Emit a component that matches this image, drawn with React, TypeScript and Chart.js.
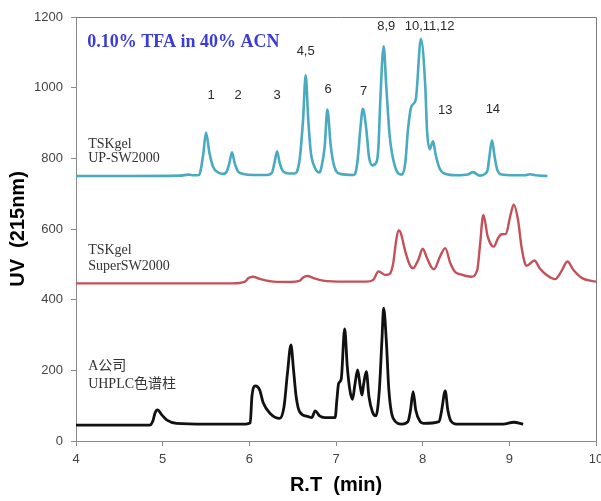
import React, { useEffect, useRef } from "react";
import { Chart, registerables } from "chart.js";

Chart.register(...registerables);

// ---- Data (retention time in min, UV absorbance) ----
const xTicks = [4, 5, 6, 7, 8, 9, 10];
const yTicks = [0, 200, 400, 600, 800, 1000, 1200];

const upSw2000: [number, number][] = [
  [4.0, 750], [4.6, 750], [5.2, 751], [5.3, 754], [5.36, 752], [5.42, 753],
  [5.44, 768], [5.47, 815], [5.5, 873], [5.54, 815], [5.58, 777], [5.64, 760], [5.7, 756],
  [5.74, 763], [5.77, 787], [5.8, 817], [5.83, 787], [5.87, 763], [5.93, 756], [6.05, 753], [6.2, 753],
  [6.26, 759], [6.29, 787], [6.32, 820], [6.35, 787], [6.39, 763], [6.46, 757], [6.52, 757],
  [6.55, 763], [6.58, 796], [6.62, 909], [6.65, 1035], [6.68, 909], [6.71, 816], [6.75, 777], [6.81, 760],
  [6.83, 773], [6.87, 834], [6.9, 938], [6.94, 834], [6.98, 777], [7.05, 756], [7.2, 753],
  [7.22, 756], [7.25, 796], [7.28, 881], [7.31, 940], [7.35, 881], [7.38, 805], [7.42, 780],
  [7.47, 791], [7.49, 834], [7.51, 957], [7.55, 1117], [7.58, 1004], [7.62, 862], [7.68, 777], [7.76, 754],
  [7.8, 788], [7.83, 880], [7.87, 947], [7.92, 966], [7.98, 1138], [8.03, 1004], [8.05, 881], [8.08, 826],
  [8.12, 848], [8.15, 810], [8.19, 775], [8.25, 757], [8.4, 752], [8.52, 754],
  [8.58, 761], [8.66, 751], [8.72, 756], [8.75, 768], [8.77, 805], [8.8, 851], [8.83, 805], [8.86, 768],
  [8.91, 754], [9.05, 752], [9.18, 752], [9.24, 755], [9.3, 752], [9.44, 750],
];

const superSw2000: [number, number][] = [
  [4.0, 446], [5.8, 446], [5.95, 451], [5.99, 461], [6.04, 465], [6.12, 459], [6.28, 451], [6.47, 450],
  [6.58, 453], [6.62, 463], [6.67, 467], [6.74, 461], [6.85, 454], [7.1, 451], [7.35, 451],
  [7.43, 456], [7.49, 480], [7.57, 470], [7.62, 473], [7.66, 503], [7.69, 560], [7.72, 596],
  [7.74, 593], [7.8, 536], [7.85, 499], [7.89, 489], [7.95, 513], [8.0, 544], [8.05, 518], [8.1, 492],
  [8.13, 486], [8.2, 522], [8.26, 546], [8.32, 503], [8.37, 480], [8.43, 472], [8.56, 465],
  [8.63, 484], [8.66, 550], [8.7, 640], [8.75, 579], [8.8, 552], [8.82, 550], [8.87, 574], [8.91, 585],
  [8.96, 586], [9.01, 636], [9.05, 669], [9.1, 626], [9.14, 550], [9.18, 503], [9.2, 496], [9.29, 511],
  [9.35, 489], [9.43, 470], [9.53, 458], [9.6, 480], [9.67, 508], [9.74, 484], [9.84, 461], [10.0, 451],
];

const companyA: [number, number][] = [
  [4.0, 45], [4.85, 45], [4.89, 59], [4.91, 78], [4.94, 88], [4.99, 74], [5.05, 59], [5.16, 50],
  [5.5, 48], [5.96, 48], [6.01, 51], [6.03, 126], [6.07, 156], [6.12, 144], [6.16, 108], [6.24, 78],
  [6.35, 64], [6.4, 97], [6.44, 192], [6.48, 272], [6.51, 201], [6.54, 126], [6.58, 83], [6.68, 69],
  [6.72, 66], [6.76, 85], [6.81, 71], [6.87, 66], [6.99, 66], [7.01, 116], [7.03, 163], [7.06, 175],
  [7.1, 317], [7.13, 211], [7.16, 144], [7.19, 118], [7.22, 163], [7.25, 201], [7.28, 154], [7.3, 130],
  [7.32, 163], [7.35, 196], [7.38, 126], [7.42, 83], [7.46, 71], [7.5, 144], [7.53, 286], [7.55, 376],
  [7.58, 286], [7.61, 144], [7.66, 64], [7.76, 48], [7.83, 55], [7.86, 88], [7.89, 140], [7.92, 88],
  [7.97, 55], [8.01, 50], [8.19, 55], [8.22, 88], [8.26, 142], [8.29, 88], [8.33, 55], [8.39, 48],
  [8.93, 48], [9.05, 53], [9.16, 48],
];

const peakLabels = ["1", "2", "3", "4,5", "6", "7", "8,9", "10,11,12", "13", "14"];
const peakLabelX = [5.56, 5.87, 6.32, 6.65, 6.91, 7.32, 7.58, 8.08, 8.26, 8.81];
const peakLabelY = [977, 977, 977, 1102, 994, 989, 1173, 1173, 935, 938];

const seriesNameLines = [
  ["TSKgel", "UP-SW2000"],
  ["TSKgel", "SuperSW2000"],
  ["A公司", "UHPLC色谱柱"],
];
const seriesNameY = [
  [841, 799],
  [541, 493],
  [210, 159],
];
const seriesNameX = 4.14;
const conditionText = "0.10% TFA in 40% ACN";
const conditionX = 4.13;
const conditionY = 1128;

const xTitle = "R.T  (min)";
const yTitle = "UV  (215nm)";

const overlayPlugin = {
  id: "overlay",
  afterDatasetsDraw(chart: any) {
    const { ctx, chartArea, scales } = chart;
    const x = scales.x;
    const y = scales.y;
    ctx.save();
    // frame top & right
    ctx.strokeStyle = "#7a7a7a";
    ctx.lineWidth = 1;
    ctx.beginPath();
    ctx.moveTo(chartArea.left, Math.round(chartArea.top) + 0.5);
    ctx.lineTo(Math.round(chartArea.right) + 0.5, Math.round(chartArea.top) + 0.5);
    ctx.lineTo(Math.round(chartArea.right) + 0.5, chartArea.bottom);
    ctx.stroke();

    ctx.textBaseline = "middle";
    // peak labels
    ctx.fillStyle = "#2a2a2a";
    ctx.textAlign = "center";
    ctx.font = "13px 'Liberation Sans', Arial, sans-serif";
    peakLabels.forEach((t, i) => {
      ctx.fillText(t, x.getPixelForValue(peakLabelX[i]), y.getPixelForValue(peakLabelY[i]));
    });

    // condition text
    ctx.textAlign = "left";
    ctx.fillStyle = "#3b3bd9";
    ctx.font = "bold 18px 'Liberation Serif', 'Times New Roman', serif";
    ctx.fillText(conditionText, x.getPixelForValue(conditionX), y.getPixelForValue(conditionY));

    // series names
    ctx.fillStyle = "#333";
    ctx.font = "14px 'Liberation Serif', 'Noto Sans CJK SC', serif";
    seriesNameLines.forEach((lines, i) => {
      lines.forEach((t, j) => {
        ctx.fillText(t, x.getPixelForValue(seriesNameX), y.getPixelForValue(seriesNameY[i][j]));
      });
    });
    ctx.restore();
  },
};

const toPoints = (arr: [number, number][]) => arr.map(([x, y]) => ({ x, y }));

export default function App() {
  const ref = useRef<HTMLCanvasElement | null>(null);

  useEffect(() => {
    if (!ref.current) return;
    const tickFont = { family: "'Liberation Sans', Arial, sans-serif", size: 13 };
    const chart = new Chart(ref.current, {
      type: "line",
      data: {
        datasets: [
          {
            label: "TSKgel UP-SW2000",
            data: toPoints(upSw2000),
            borderColor: "#4aaabf",
            borderWidth: 2.6,
            pointRadius: 0,
            cubicInterpolationMode: "monotone",
            fill: false,
          },
          {
            label: "TSKgel SuperSW2000",
            data: toPoints(superSw2000),
            borderColor: "#c4505a",
            borderWidth: 2.4,
            pointRadius: 0,
            cubicInterpolationMode: "monotone",
            fill: false,
          },
          {
            label: "A公司 UHPLC色谱柱",
            data: toPoints(companyA),
            borderColor: "#111111",
            borderWidth: 2.8,
            pointRadius: 0,
            cubicInterpolationMode: "monotone",
            fill: false,
          },
        ],
      },
      options: {
        animation: false,
        responsive: false,
        devicePixelRatio: 1,
        layout: { padding: { left: 0, top: 17, right: 5, bottom: 0 } },
        plugins: { legend: { display: false }, tooltip: { enabled: false } },
        scales: {
          x: {
            type: "linear",
            min: 4,
            max: 10,
            afterBuildTicks: (s: any) => {
              s.ticks = xTicks.map((v) => ({ value: v }));
            },
            afterFit: (s: any) => {
              s.height = 60;
              s.paddingLeft = 0;
              s.paddingRight = 0;
            },
            ticks: {
              color: "#444",
              font: tickFont,
              padding: 6,
              maxRotation: 0,
              callback: (v: any) => String(v),
            },
            grid: { display: true, drawOnChartArea: false, drawTicks: true, tickLength: 5, color: "#8a8a8a" },
            border: { display: true, color: "#8a8a8a", width: 1 },
            title: {
              display: true,
              text: xTitle,
              color: "#000",
              font: { family: "'Liberation Sans', Arial, sans-serif", size: 20, weight: "bold" },
              padding: { top: 0, bottom: 4 },
            },
          },
          y: {
            type: "linear",
            min: 0,
            max: 1200,
            afterBuildTicks: (s: any) => {
              s.ticks = yTicks.map((v) => ({ value: v }));
            },
            afterFit: (s: any) => {
              s.width = 76;
              s.paddingTop = 0;
              s.paddingBottom = 0;
            },
            ticks: { color: "#444", font: tickFont, padding: 8, callback: (v: any) => String(v) },
            grid: { display: true, drawOnChartArea: false, drawTicks: true, tickLength: 5, color: "#8a8a8a" },
            border: { display: true, color: "#8a8a8a", width: 1 },
            title: {
              display: true,
              text: yTitle,
              color: "#000",
              font: { family: "'Liberation Sans', Arial, sans-serif", size: 20, weight: "bold" },
              padding: { top: 6, bottom: 0 },
            },
          },
        },
      },
      plugins: [overlayPlugin],
    } as any);
    return () => chart.destroy();
  }, []);

  return (
    <div style={{ position: "fixed", left: 0, top: 0, width: 601, height: 501, background: "#fff" }}>
      <canvas ref={ref} width={601} height={501} style={{ display: "block", width: 601, height: 501 }} />
    </div>
  );
}
